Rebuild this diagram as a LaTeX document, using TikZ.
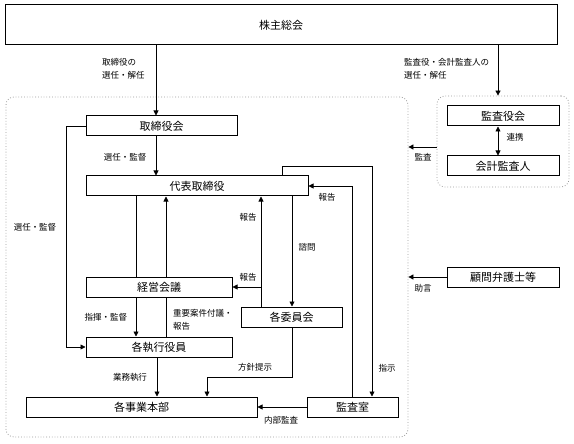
\documentclass[tikz,border=0pt]{standalone}
\usepackage{fontspec}
\newfontfamily\jp{Noto Sans CJK JP}
\usetikzlibrary{arrows.meta}
\begin{document}
\begin{tikzpicture}[x=1pt,y=-1pt,
  box/.style={draw, line width=1pt, inner sep=0pt, font=\jp\fontsize{11}{13}\selectfont},
  lbl/.style={inner sep=0pt, font=\jp\fontsize{8.5}{13}\selectfont},
  ln/.style={line width=0.8pt},
  arr/.style={ln, -{Triangle[length=5pt,width=5pt]}},
  dbl/.style={ln, {Triangle[length=5pt,width=5pt]}-{Triangle[length=5pt,width=5pt]}},
  frame/.style={draw=gray!80, dotted, line width=0.8pt, rounded corners=8pt, inner sep=0pt}]
\useasboundingbox (0,0) rectangle (574,444);
% frames
\node[frame, minimum width=402pt, minimum height=340pt] (fl) at (207,267) {};
\node[frame, minimum width=132pt, minimum height=91pt] (fr) at (503,141.5) {};
% boxes
\node[box, minimum width=552pt, minimum height=40pt] (kab) at (281,25) {株主総会};
\node[box, minimum width=151pt, minimum height=20pt] (tk) at (161.5,126) {取締役会};
\node[box, minimum width=222pt, minimum height=20pt] (dh) at (197,186) {代表取締役};
\node[box, minimum width=146pt, minimum height=20pt] (kk) at (159,287) {経営会議};
\node[box, minimum width=146pt, minimum height=20pt] (sk) at (159,347) {各執行役員};
\node[box, minimum width=101pt, minimum height=20pt] (ii) at (291.5,317) {各委員会};
\node[box, minimum width=231pt, minimum height=20pt] (jg) at (141.5,407) {各事業本部};
\node[box, minimum width=91pt, minimum height=20pt] (ks) at (352.5,407) {監査室};
\node[box, minimum width=112pt, minimum height=20pt] (ky) at (503,116) {監査役会};
\node[box, minimum width=112pt, minimum height=20pt] (kt) at (503,166) {会計監査人};
\node[box, minimum width=112pt, minimum height=20pt] (km) at (503,277) {顧問弁護士等};
% connectors
\draw[arr] (156,0 |- kab.south) -- (156,0 |- tk.north);
\draw[arr] (498,0 |- kab.south) -- (498,0 |- fr.north);
\draw[arr] (156,0 |- tk.south) -- (156,0 |- dh.north);
\draw[arr] (tk.west) -- (66,0 |- tk.west) -- (66,0 |- sk.west) -- (sk.west);
\draw[ln] (136,0 |- dh.south) -- (136,0 |- kk.north);
\draw[arr] (166,0 |- kk.north) -- (166,0 |- dh.south);
\draw[arr] (261,0 |- ii.north) -- (261,0 |- dh.south);
\coordinate (br) at (261,287);
\draw[arr] (br) -- (br -| kk.east);
\draw[arr] (292,0 |- dh.south) -- (292,0 |- ii.north);
\draw[arr] (352,0 |- ks.north) -- (352,186) -- (dh.east);
\draw[arr] (282,0 |- dh.north) -- (282,166) -- (372,166) -- (372,0 |- ks.north);
\draw[arr] (136,0 |- kk.south) -- (136,0 |- sk.north);
\draw[ln] (166,0 |- kk.south) -- (166,0 |- sk.north);
\draw[arr] (157,0 |- sk.south) -- (157,0 |- jg.north);
\draw[arr] (292,0 |- ii.south) -- (292,377) -- (207,377) -- (207,0 |- jg.north);
\draw[arr] (ks.west) -- (jg.east);
\draw[dbl] (498,0 |- ky.south) -- (498,0 |- kt.north);
\draw[arr] (fr.west |- 0,147) -- (fl.east |- 0,147);
\draw[arr] (km.west) -- (km.west -| fl.east);
% labels
\node[lbl, anchor=north west, align=left] (l1) at (102,58) {取締役の\\選任・解任};
\node[lbl, anchor=north west, align=left] (l2) at (404,58) {監査役・会計監査人の\\選任・解任};
\node[lbl] (l3) at (125,157) {選任・監督};
\node[lbl] (l4) at (35,227) {選任・監督};
\node[lbl] (l5) at (248,217) {報告};
\node[lbl] (l6) at (248,277) {報告};
\node[lbl] (l7) at (307,247) {諮問};
\node[lbl] (l8) at (327,197) {報告};
\node[lbl] (l9) at (387,368) {指示};
\node[lbl] (l10) at (106,317) {指揮・監督};
\node[lbl, anchor=north west, align=left] (l11) at (173,309) {重要案件付議・\\報告};
\node[lbl] (l12) at (130,377) {業務執行};
\node[lbl] (l13) at (255,367) {方針提示};
\node[lbl] (l14) at (281,420) {内部監査};
\node[lbl] (l15) at (515,137) {連携};
\node[lbl] (l16) at (423,157) {監査};
\node[lbl] (l17) at (423,288) {助言};
\end{tikzpicture}
\end{document}
